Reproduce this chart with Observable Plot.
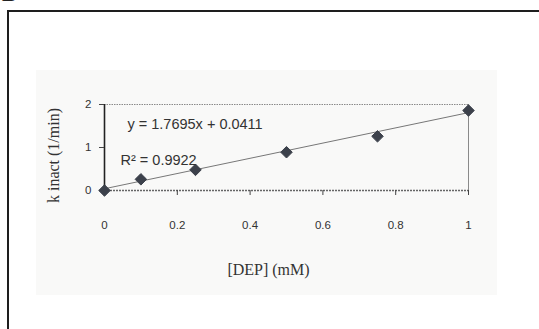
<!DOCTYPE html>
<html>
<head>
<meta charset="utf-8">
<script src="https://cdn.jsdelivr.net/npm/d3@7"></script>
<script src="https://cdn.jsdelivr.net/npm/@observablehq/plot@0.6"></script>
<style>
  html, body { margin: 0; padding: 0; background: #fff; }
  #page { position: relative; width: 539px; height: 329px; overflow: hidden; background: #fff; }
  #fig-letter { position: absolute; left: 2px; top: -19px; font: bold 22px "Liberation Serif", serif; color: #222; }
  #box { position: absolute; left: 7px; top: 10px; width: 600px; height: 400px;
         border-left: 2px solid #1e1e1e; border-top: 2px solid #1e1e1e; }
  #panel { position: absolute; left: 36px; top: 70px; width: 461px; height: 225px; background: #f9f9f8; }
  #chart { position: absolute; left: 0; top: 0; }
</style>
</head>
<body>
<div id="page">
  <div id="fig-letter">B</div>
  <div id="box"></div>
  <div id="panel"></div>
  <div id="chart"></div>
</div>
<script>
// DEP concentration (mM) and observed inactivation rate constant (1/min)
const dep = [0, 0.1, 0.25, 0.5, 0.75, 1];
const kInact = [0, 0.26, 0.48, 0.89, 1.26, 1.86];

// Linear fit reported on the chart
const slope = 1.7695;
const intercept = 0.0411;
const rSquared = 0.9922;

const xTicks = [0, 0.2, 0.4, 0.6, 0.8, 1];
const xTickLabels = ["0", "0.2", "0.4", "0.6", "0.8", "1"];
const yTicks = [0, 1, 2];
const yTickLabels = ["0", "1", "2"];

const points = dep.map((x, i) => ({x, y: kInact[i]}));
const fit = d3.extent(dep).map(x => ({x, y: slope * x + intercept}));

const sans = "'Liberation Sans', Arial, sans-serif";
const serif = "'Liberation Serif', 'Times New Roman', serif";

const chart = Plot.plot({
  width: 539,
  height: 329,
  marginLeft: 104,
  marginRight: 71,
  marginTop: 104,
  marginBottom: 139,
  style: {background: "transparent", overflow: "visible"},
  x: {domain: [0, 1]},
  y: {domain: [0, 2]},
  marks: [
    // plot-area edges
    Plot.ruleY([2], {stroke: "#8a8a8a", strokeWidth: 1, strokeDasharray: "1.5,1"}),
    Plot.ruleX([1], {stroke: "#8a8a8a", strokeWidth: 1}),
    Plot.ruleY([0], {stroke: "#666", strokeWidth: 1.3, strokeDasharray: "2,1"}),
    Plot.ruleX([0], {stroke: "#222", strokeWidth: 1.6}),
    Plot.axisX({
      ticks: xTicks, tickFormat: (d, i) => xTickLabels[i],
      tickSize: 5, tickPadding: 25, label: null,
      fontFamily: sans, fontSize: 11.5, fill: "#333", stroke: "#444",
      style: {letterSpacing: "0.5px"}
    }),
    Plot.axisY({
      ticks: yTicks, tickFormat: (d, i) => yTickLabels[i],
      tickSize: 5, tickPadding: 8, label: null,
      fontFamily: sans, fontSize: 11.5, fill: "#333", stroke: "#444"
    }),
    // trend line
    Plot.line(fit, {x: "x", y: "y", stroke: "#777", strokeWidth: 1}),
    // measurements
    Plot.dot(points, {x: "x", y: "y", symbol: "diamond2", r: 5.2, fill: "#3c414b", stroke: "#3c414b", strokeWidth: 1}),
    // fit equation and R²
    Plot.text([`y = ${slope}x + ${intercept}`], {
      frameAnchor: "top-left", dx: 23, dy: 14, textAnchor: "start",
      fontFamily: sans, fontSize: 14.5, fill: "#333"
    }),
    Plot.text([`R² = ${rSquared}`], {
      frameAnchor: "top-left", dx: 16, dy: 50, textAnchor: "start",
      fontFamily: sans, fontSize: 14.5, fill: "#333"
    }),
    // axis titles
    Plot.text(["[DEP] (mM)"], {
      frameAnchor: "bottom", dx: -18, dy: 84,
      fontFamily: serif, fontSize: 16, fill: "#333"
    }),
    Plot.text(["k inact (1/min)"], {
      frameAnchor: "left", textAnchor: "middle", dx: -51, dy: 8, rotate: -90,
      fontFamily: serif, fontSize: 16, fill: "#333",
      style: {letterSpacing: "1px"}
    })
  ]
});
document.getElementById("chart").append(chart);
</script>
</body>
</html>
